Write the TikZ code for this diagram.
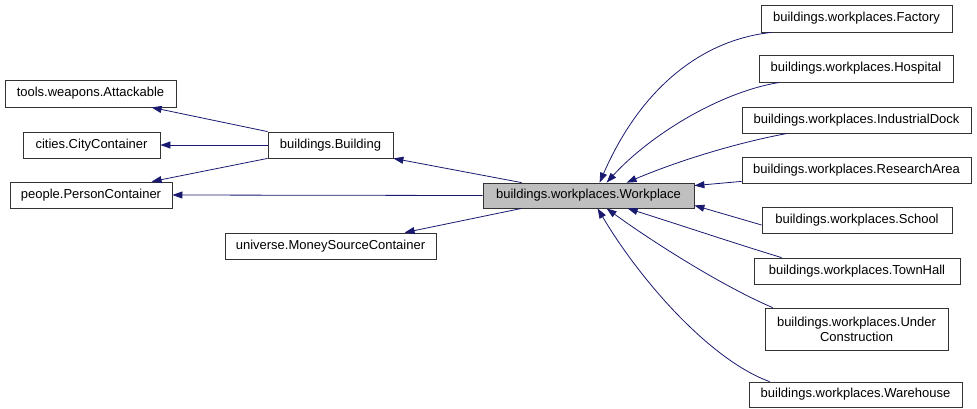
\documentclass[tikz,border=0pt]{standalone}
\usepackage{fontspec}
\setmainfont{Liberation Sans}
\usetikzlibrary{arrows.meta}
\definecolor{edgeblue}{HTML}{191970}
\definecolor{curgray}{HTML}{BFBFBF}
\begin{document}
\begin{tikzpicture}[x=1pt, y=1pt,
    cls/.style={draw=black!80, line width=0.8pt, fill=white, inner sep=0pt,
        font=\fontsize{13}{15}\selectfont, align=center},
    cur/.style={cls, fill=curgray},
    inh/.style={draw=edgeblue, line width=0.8pt, -{Triangle[length=10pt, width=7pt]}, color=edgeblue}]
    \useasboundingbox (0,0) rectangle (977,-408);

    % Base classes (left)
    \node[cls, minimum width=171, minimum height=27] (attack) at (90.5,-93.5) {tools.weapons.Attackable};
    \node[cls, minimum width=137, minimum height=26] (city) at (91.5,-145) {cities.CityContainer};
    \node[cls, minimum width=162, minimum height=26] (person) at (91,-195) {people.PersonContainer};
    \node[cls, minimum width=125, minimum height=26] (building) at (330.5,-145) {buildings.Building};
    \node[cls, minimum width=211, minimum height=26] (money) at (330.5,-246) {universe.MoneySourceContainer};

    % Current class
    \node[cur, minimum width=211, minimum height=25] (workplace) at (588.5,-195.5) {buildings.workplaces.Workplace};

    % Derived classes (right)
    \node[cls, minimum width=191, minimum height=27] (factory) at (856.5,-18.5) {buildings.workplaces.Factory};
    \node[cls, minimum width=194, minimum height=27] (hospital) at (856,-68.5) {buildings.workplaces.Hospital};
    \node[cls, minimum width=229, minimum height=26] (dock) at (856.5,-120) {buildings.workplaces.IndustrialDock};
    \node[cls, minimum width=229, minimum height=26] (research) at (856.5,-170) {buildings.workplaces.ResearchArea};
    \node[cls, minimum width=190, minimum height=26] (school) at (857,-220) {buildings.workplaces.School};
    \node[cls, minimum width=206, minimum height=26] (townhall) at (857,-271) {buildings.workplaces.TownHall};
    \node[cls, minimum width=183, minimum height=42] (under) at (856.5,-329) {buildings.workplaces.Under\\Construction};
    \node[cls, minimum width=213, minimum height=25] (warehouse) at (855.5,-394.5) {buildings.workplaces.Warehouse};

    % Building inherits
    \draw[inh] (building.north west) -- ([xshift=147pt]attack.south west);
    \draw[inh] (building.west) -- (city.east);
    \draw[inh] (building.south west) -- ([xshift=142pt]person.north west);

    % Workplace inherits
    \draw[inh] ([xshift=39pt]workplace.north west) -- (building.south east);
    \draw[inh] (workplace.west) -- (person.east);
    \draw[inh] ([xshift=39pt]workplace.south west) -- ([xshift=180pt]money.north west);

    % Derived classes to Workplace
    \draw[inh] ([xshift=11pt]factory.south west) .. controls (700,-40) and (640,-90) .. ([xshift=117pt]workplace.north west);
    \draw[inh] ([xshift=21pt]hospital.south west) .. controls (720,-92) and (650,-135) .. ([xshift=124pt]workplace.north west);
    \draw[inh] ([xshift=46pt]dock.south west) .. controls (740,-142) and (680,-160) .. ([xshift=144pt]workplace.north west);
    \draw[inh] ([yshift=2pt]research.south west) -- ([yshift=-3pt]workplace.north east);
    \draw[inh] ([yshift=-5pt]school.west) -- ([yshift=3pt]workplace.south east);
    \draw[inh] ([xshift=28pt]townhall.north west) .. controls (740,-245) and (680,-225) .. ([xshift=145pt]workplace.south west);
    \draw[inh] ([xshift=8pt]under.north west) .. controls (720,-285) and (650,-240) .. ([xshift=124pt]workplace.south west);
    \draw[inh] ([xshift=21pt]warehouse.north west) .. controls (710,-360) and (640,-280) .. ([xshift=115pt]workplace.south west);
\end{tikzpicture}
\end{document}
